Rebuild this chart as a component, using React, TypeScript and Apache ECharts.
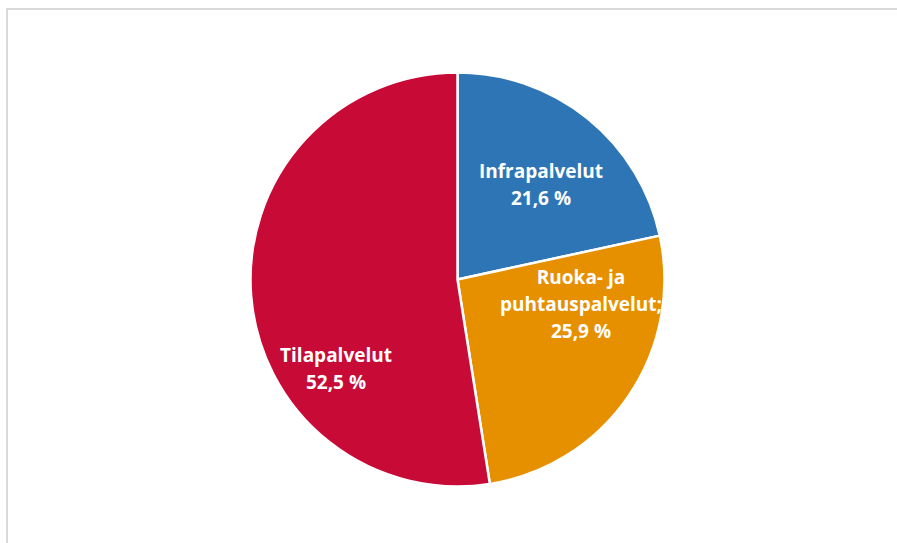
import React, { useEffect, useRef } from "react";
import * as echarts from "echarts";

const categories = ["Infrapalvelut", "Ruoka- ja\npuhtauspalvelut;", "Tilapalvelut"];
const values = [21.6, 25.9, 52.5];
const colors = ["#2E75B6", "#E69000", "#C70A36"];
const labelPos = [
  [541, 184],
  [581, 304],
  [336, 368],
];

export default function App() {
  const ref = useRef<HTMLDivElement>(null);
  useEffect(() => {
    document.body.style.margin = "0";
    const chart = echarts.init(ref.current!, null, { renderer: "svg" });
    chart.setOption({
      animation: false,
      backgroundColor: "#ffffff",
      graphic: [
        { type: "rect", shape: { x: 6, y: 8, width: 891, height: 2 }, style: { fill: "#d9d9d9" }, silent: true },
        { type: "rect", shape: { x: 6, y: 8, width: 2, height: 535 }, style: { fill: "#d9d9d9" }, silent: true },
      ],
      series: [
        {
          type: "pie",
          center: [457.5, 279.5],
          radius: [0, 207],
          startAngle: 90,
          clockwise: true,
          itemStyle: { borderColor: "#ffffff", borderWidth: 2.5 },
          label: {
            show: true,
            position: "inside",
            color: "#ffffff",
            fontFamily: "Open Sans",
            fontWeight: "bold",
            fontSize: 19,
            lineHeight: 27,
            align: "center",
            formatter: (p: any) => p.name + "\n" + p.value.toFixed(1).replace(".", ",") + " %",
          },
          labelLine: { show: false },
          labelLayout: (params: any) => ({
            x: labelPos[params.dataIndex][0],
            y: labelPos[params.dataIndex][1],
            align: "center",
            verticalAlign: "middle",
          }),
          emphasis: { disabled: true },
          data: categories.map((c, i) => ({ name: c, value: values[i], itemStyle: { color: colors[i] } })),
        },
      ],
    });
    return () => chart.dispose();
  }, []);
  return <div ref={ref} style={{ position: "absolute", left: 0, top: 0, width: 897, height: 543 }} />;
}
